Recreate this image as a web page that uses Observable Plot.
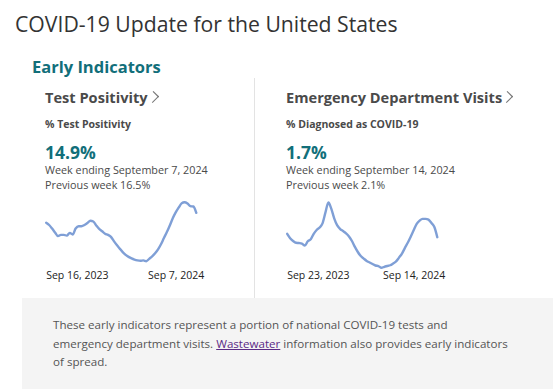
<!DOCTYPE html>
<html><head><meta charset="utf-8">
<script src="https://cdn.jsdelivr.net/npm/d3@7"></script>
<script src="https://cdn.jsdelivr.net/npm/@observablehq/plot@0.6"></script>
<style>
body{margin:0;width:553px;height:389px;overflow:hidden;background:#fff;font-family:"Open Sans",sans-serif;position:relative;}
.abs{position:absolute;white-space:nowrap;}
#title{left:15px;top:9px;font-size:21.2px;color:#333;}
#early{left:32px;top:55px;font-size:16.5px;font-weight:700;color:#126f7a;}
.h{font-size:14.6px;font-weight:700;color:#4a4a4a;}
.chev{display:inline-block;width:7px;height:7px;border-top:1px solid #777;border-right:1px solid #777;transform:rotate(45deg) scaleY(1.15);margin-left:1px;position:relative;top:-2px;}
.sub{font-size:10.5px;font-weight:700;color:#4a4a4a;}
.big{font-size:17.5px;font-weight:700;color:#126f7a;line-height:20px;}
.txt{font-size:10.8px;color:#4a4a4a;line-height:14.5px;}
#divider{left:254px;top:78px;width:1px;height:220px;background:#e3e3e3;}
#box{left:22px;top:298px;width:531px;height:91px;background:#f4f4f4;}
#foot{left:53px;top:316px;font-size:11.6px;color:#555;line-height:18.6px;}
#foot a{color:#5b2b86;}
.chart{position:absolute;}
</style></head><body>
<div class="abs" id="title">COVID-19 Update for the United States</div>
<div class="abs" id="early">Early Indicators</div>
<div class="abs" id="divider"></div>

<div class="abs h" style="left:45px;top:87px">Test Positivity<span class="chev"></span></div>
<div class="abs sub" style="left:45px;top:117px">% Test Positivity</div>
<div class="abs big" style="left:45px;top:142px">14.9%</div>
<div class="abs txt" style="left:45px;top:163px">Week ending September 7, 2024<br>Previous week 16.5%</div>

<div class="abs h" style="left:286px;top:87px">Emergency Department Visits<span class="chev"></span></div>
<div class="abs sub" style="left:286px;top:117px">% Diagnosed as COVID-19</div>
<div class="abs big" style="left:286px;top:142px">1.7%</div>
<div class="abs txt" style="left:286px;top:163px">Week ending September 14, 2024<br>Previous week 2.1%</div>

<div id="chart1" class="chart" style="left:40px;top:195px"></div>
<div id="chart2" class="chart" style="left:281px;top:195px"></div>

<div class="abs" id="box"></div>
<div class="abs" id="foot">These early indicators represent a portion of national COVID-19 tests and<br>emergency department visits. <a href="#">Wastewater</a> information also provides early indicators<br>of spread.</div>

<script>
// Test positivity (%), weekly, Sep 16 2023 .. Sep 7 2024
const tpStart = "2023-09-16";
const tpValues = [12.4, 11.8, 10.9, 9.9, 9.0, 9.3, 9.3, 9.1, 9.8, 9.4, 10.9, 11.5, 11.5, 11.8, 12.3, 12.9, 12.7, 11.7, 10.8, 10.2, 9.6, 9.3, 8.8, 7.7, 6.7, 5.8, 4.9, 4.2, 3.7, 3.3, 3.0, 2.8, 2.7, 2.8, 2.6, 3.2, 3.8, 4.6, 5.6, 6.9, 8.5, 10.0, 11.7, 13.5, 15.0, 16.2, 17.3, 17.6, 17.3, 16.6, 16.5, 14.9];
const tpTickLabels = ["Sep 16, 2023", "Sep 7, 2024"];

// ED visits diagnosed as COVID-19 (%), weekly, Sep 23 2023 .. Sep 14 2024
const edStart = "2023-09-23";
const edValues = [1.83, 1.66, 1.55, 1.48, 1.47, 1.45, 1.37, 1.54, 1.62, 1.83, 1.98, 2.08, 2.24, 2.67, 3.06, 2.81, 2.43, 2.16, 2.02, 1.94, 1.85, 1.73, 1.55, 1.32, 1.12, 0.96, 0.86, 0.77, 0.71, 0.65, 0.59, 0.57, 0.50, 0.54, 0.57, 0.60, 0.67, 0.75, 0.90, 1.06, 1.28, 1.49, 1.73, 1.98, 2.22, 2.35, 2.42, 2.42, 2.39, 2.26, 2.1, 1.7];
const edTickLabels = ["Sep 23, 2023", "Sep 14, 2024"];

function weekly(start, values) {
  const s = new Date(start + "T00:00:00Z");
  return values.map((v, i) => ({date: new Date(s.getTime() + i * 7 * 864e5), value: v}));
}

function chart(data, labels, mt, mb) {
  const W = 175, H = 90;
  const first = data[0].date, last = data[data.length - 1].date;
  const dyTick = 83 - (H - mb);
  return Plot.plot({
    width: W, height: H,
    marginLeft: 5.7, marginRight: 19.2, marginTop: mt, marginBottom: mb,
    x: {type: "utc", axis: null},
    y: {axis: null},
    style: {background: "transparent", overflow: "visible"},
    marks: [
      Plot.line(data, {x: "date", y: "value", stroke: "#7f9fd6", strokeWidth: 2.4, curve: "monotone-x"}),
      Plot.text([{date: first, label: labels[0]}], {x: "date", text: "label", frameAnchor: "bottom", lineAnchor: "bottom", textAnchor: "start", dy: dyTick, fontSize: 10.5, fill: "#222", fontFamily: "Open Sans"}),
      Plot.text([{date: last, label: labels[1]}], {x: "date", text: "label", frameAnchor: "bottom", lineAnchor: "bottom", textAnchor: "end", dx: 8, dy: dyTick, fontSize: 10.5, fill: "#222", fontFamily: "Open Sans"})
    ]
  });
}

document.getElementById("chart1").append(chart(weekly(tpStart, tpValues), tpTickLabels, 6.7, 24.3));
document.getElementById("chart2").append(chart(weekly(edStart, edValues), edTickLabels, 7, 17.7));
</script>
</body></html>
